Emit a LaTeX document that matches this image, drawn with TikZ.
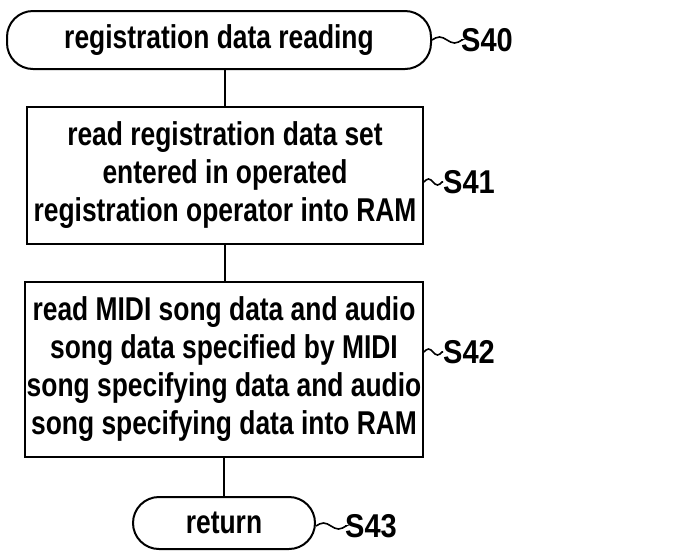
\documentclass[tikz,border=0pt]{standalone}
\usepackage{fontspec}
\setmainfont{Liberation Sans}[FakeStretch=0.8]
\newfontfamily\labfont{Liberation Sans}[FakeStretch=0.88]
\begin{document}
\begin{tikzpicture}[x=1pt,y=1pt,
  txt/.style={font=\fontsize{33}{38}\selectfont\bfseries},
  term/.style={draw, line width=2pt, rectangle, rounded corners=26pt, txt, inner sep=0pt},
  proc/.style={draw, line width=2pt, rectangle, txt, align=center, inner sep=0pt},
  lab/.style={font=\labfont\fontsize{33}{38}\selectfont\bfseries, inner sep=0pt, anchor=west},
  link/.style={line width=2pt},
  lead/.style={line width=1.6pt}]
\fill[white] (0,0) rectangle (677,-550);
\useasboundingbox (0,0) rectangle (677,-550);
\node[term, minimum width=424pt, minimum height=58pt] (t0) at (219,-40) {registration data reading};
\node[proc, minimum width=396pt, minimum height=137pt] (b1) at (225,-175.5) {read registration data set\\entered in operated\\registration operator into RAM};
\node[proc, minimum width=398pt, minimum height=175pt] (b2) at (224,-369.5) {read MIDI song data and audio\\song data specified by MIDI\\song specifying data and audio\\song specifying data into RAM};
\node[term, minimum width=182pt, minimum height=52pt] (t1) at (224,-523) {return};
\draw[link] (b1.north) -- (b1.north |- t0.south);
\draw[link] (b1.south) -- (b1.south |- b2.north);
\draw[link] (t1.north) -- (t1.north |- b2.south);
\node[lab] (l40) at (461,-40) {S40};
\node[lab] (l41) at (443,-182) {S41};
\node[lab] (l42) at (443,-352) {S42};
\node[lab] (l43) at (345,-526) {S43};
\draw[lead] (t0.east) sin ++(7.5,3) cos ++(7.5,-3) sin ++(7.5,-3) cos ++(7.5,3) -- (l40.west);
\draw[lead] (b1.east |- l41.west) sin ++(4.5,3) cos ++(4.5,-3) sin ++(4.5,-3) cos ++(4.5,3) -- (l41.west);
\draw[lead] (b2.east |- l42.west) sin ++(4.5,3) cos ++(4.5,-3) sin ++(4.5,-3) cos ++(4.5,3) -- (l42.west);
\draw[lead] (t1.east |- l43.west) sin ++(7.5,3) cos ++(7.5,-3) sin ++(7.5,-3) cos ++(7.5,3) -- (l43.west);
\end{tikzpicture}
\end{document}
